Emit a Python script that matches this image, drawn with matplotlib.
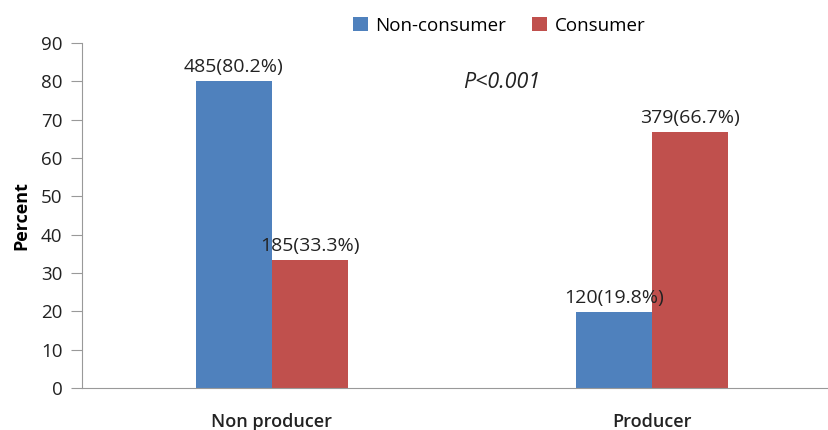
import numpy as np
import matplotlib.pyplot as plt

categories = ['Non producer', 'Producer']
series_names = ['Non-consumer', 'Consumer']
non_consumer = [80.2, 19.8]
consumer = [33.3, 66.7]
non_consumer_labels = ['485(80.2%)', '120(19.8%)']
consumer_labels = ['185(33.3%)', '379(66.7%)']

plt.rcParams['font.family'] = ['Open Sans', 'DejaVu Sans']

fig = plt.figure(figsize=(8.29, 4.3), dpi=100)
ax = fig.add_axes([0.0989, 0.0977, 0.9011, 0.8023])

x = np.arange(len(categories))
w = 0.2
b1 = ax.bar(x - w / 2, non_consumer, w, color='#4F81BD', label=series_names[0])
b2 = ax.bar(x + w / 2, consumer, w, color='#C0504D', label=series_names[1])

for bars, labels in ((b1, non_consumer_labels), (b2, consumer_labels)):
    for bar, lab in zip(bars, labels):
        ax.text(bar.get_x() + bar.get_width() / 2, bar.get_height() + 1.3, lab,
                ha='center', va='bottom', fontsize=14, color='#222222')

ax.text(0.605, 79.6, 'P<0.001', ha='center', va='center', fontsize=15.5,
        style='italic', color='#222222')

ax.set_xlim(-0.5, 1.466)
ax.set_ylim(0, 90)
ax.set_yticks(range(0, 91, 10))
ax.tick_params(axis='y', labelsize=13.5, length=8, pad=6, color='#999999',
               labelcolor='#222222')
ax.tick_params(axis='x', length=0, labelsize=13, pad=18, labelcolor='#222222')
ax.set_xticks(x)
ax.set_xticklabels(categories, fontweight='semibold')
ax.set_ylabel('Percent', fontsize=13, fontweight='bold', labelpad=8)

for s in ('top', 'right'):
    ax.spines[s].set_visible(False)
for s in ('left', 'bottom'):
    ax.spines[s].set_color('#999999')

fig.legend(loc='center', bbox_to_anchor=(0.602, 0.94), ncol=2, frameon=False,
           fontsize=13.5, handlelength=0.8, handleheight=0.8, handletextpad=0.4,
           columnspacing=1.4)

fig.savefig('out.png', dpi=100)
